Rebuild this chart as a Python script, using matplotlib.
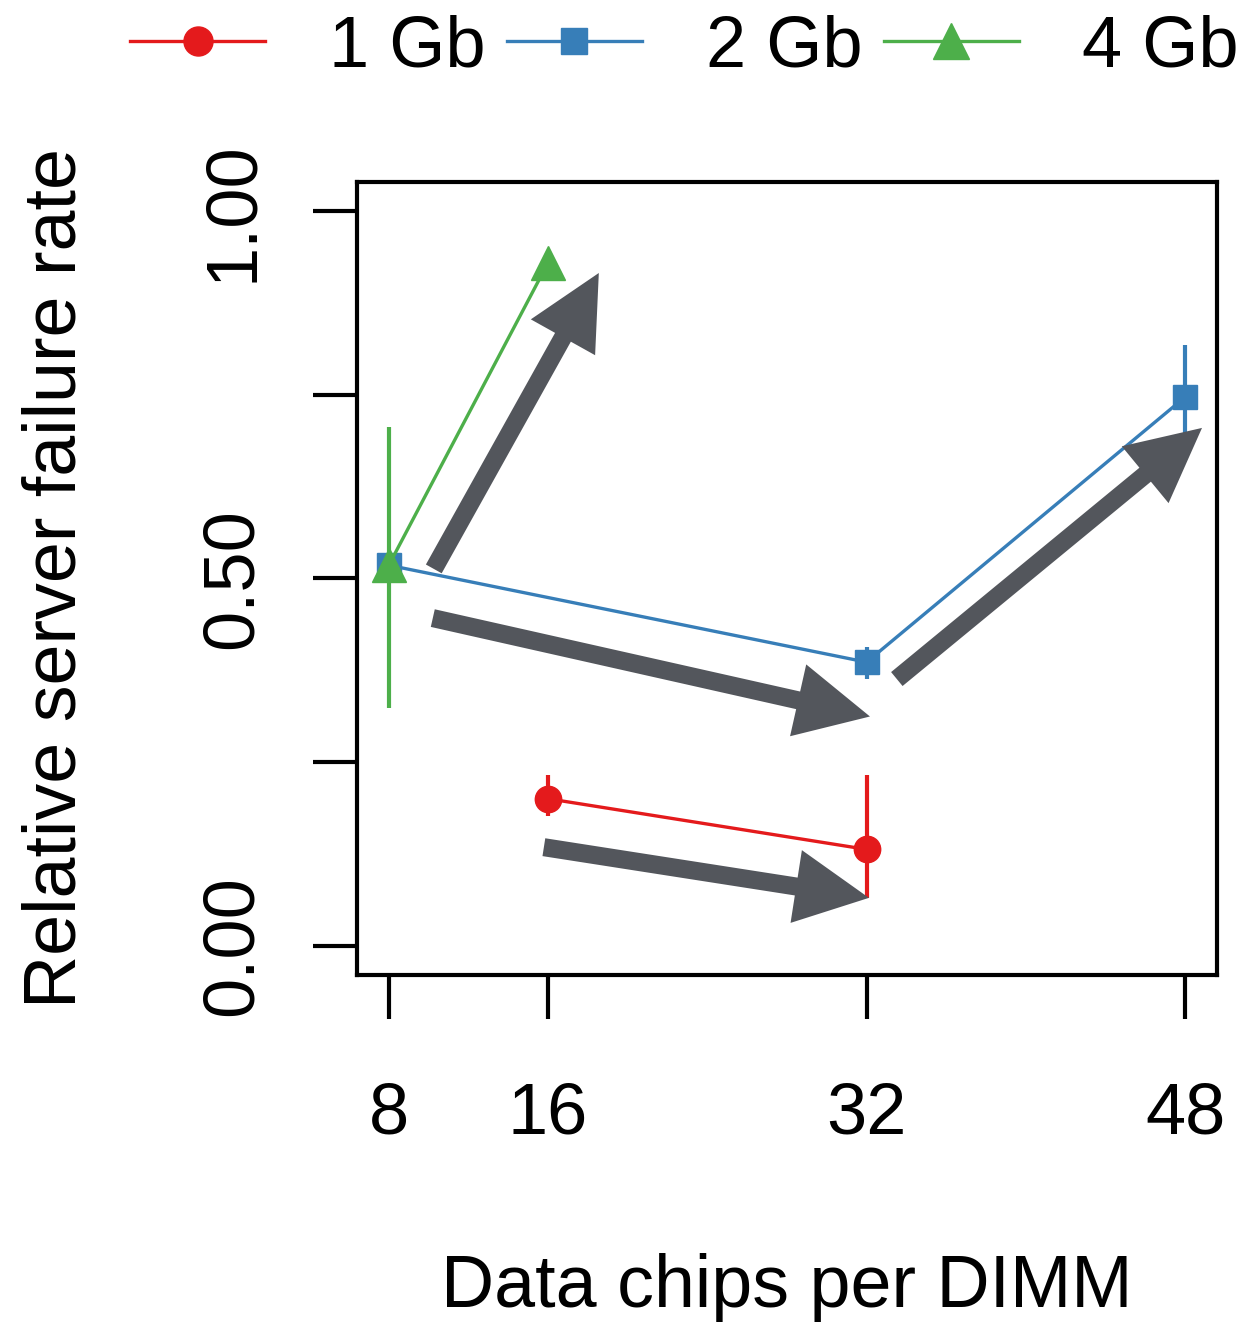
import matplotlib.pyplot as plt

plt.rcParams['font.family'] = ['Liberation Sans', 'DejaVu Sans']

# Data chips per DIMM and relative failure rate with error bar limits
chips_1gb = [16, 32]
rate_1gb = [0.200, 0.131]
low_1gb = [0.177, 0.065]
high_1gb = [0.232, 0.232]

chips_2gb = [8, 32, 48]
rate_2gb = [0.518, 0.386, 0.747]
low_2gb = [0.508, 0.363, 0.676]
high_2gb = [0.528, 0.406, 0.818]

chips_4gb = [8, 16]
rate_4gb = [0.518, 0.930]
low_4gb = [0.323, 0.920]
high_4gb = [0.706, 0.940]

labels = ['1 Gb', '2 Gb', '4 Gb']
x_ticks = [8, 16, 32, 48]
y_ticks = [0.0, 0.25, 0.5, 0.75, 1.0]
y_tick_labels = ['0.00', '', '0.50', '', '1.00']

# trend arrows: (tail, tip) in data units
arrow_tails = [(10.26, 0.513), (10.21, 0.446), (33.52, 0.363), (15.79, 0.134)]
arrow_tips = [(18.55, 0.916), (32.17, 0.312), (48.85, 0.705), (32.12, 0.065)]

fig = plt.figure(figsize=(12.52, 13.29), dpi=100)
ax = fig.add_axes([0.2851, 0.2664, 0.6869, 0.5967])

series = [
    (chips_1gb, rate_1gb, low_1gb, high_1gb, '#e41a1c', 'o', 19),
    (chips_2gb, rate_2gb, low_2gb, high_2gb, '#377eb8', 's', 17),
    (chips_4gb, rate_4gb, low_4gb, high_4gb, '#4daf4a', '^', 24),
]
handles = []
for x, y, lo, hi, col, mk, ms in series:
    err = [[v - l for v, l in zip(y, lo)], [h - v for v, h in zip(y, hi)]]
    eb = ax.errorbar(x, y, yerr=err, color=col, marker=mk, ms=ms, lw=2.4,
                     elinewidth=3, capsize=0)
    handles.append(eb[0])

# thick gray arrows
for tail, tip in zip(arrow_tails, arrow_tips):
    ax.annotate('', xy=tip, xytext=tail,
                arrowprops=dict(arrowstyle='simple,head_length=5.3,head_width=5.3,tail_width=1.3',
                                mutation_scale=10, color='#53565c', lw=0,
                                shrinkA=0, shrinkB=0))

ax.set_xlim(6.4, 49.6)
ax.set_ylim(-0.04, 1.04)
ax.set_xticks(x_ticks)
ax.set_xticklabels([str(t) for t in x_ticks], fontsize=52)
ax.set_yticks(y_ticks)
ax.set_yticklabels(y_tick_labels, fontsize=52, rotation=90, va='center')
ax.tick_params(axis='both', length=32, width=3)
ax.tick_params(axis='x', pad=45)
ax.tick_params(axis='y', pad=33)
for s in ax.spines.values():
    s.set_linewidth(3)

ax.set_xlabel('Data chips per DIMM', fontsize=53, va='top')
ax.xaxis.set_label_coords(0.5, -0.35)
ax.set_ylabel('Relative server failure rate', fontsize=53)
ax.yaxis.set_label_coords(-0.31, 0.5)

fig.legend(handles, labels, loc='center left', bbox_to_anchor=(130 / 1252, 1 - 48 / 1329),
           ncol=3, frameon=False, fontsize=52, handlelength=1.87, handletextpad=0.88,
           columnspacing=0.3, borderpad=0, borderaxespad=0, markerscale=1.1)

fig.savefig('out.png', dpi=100)
